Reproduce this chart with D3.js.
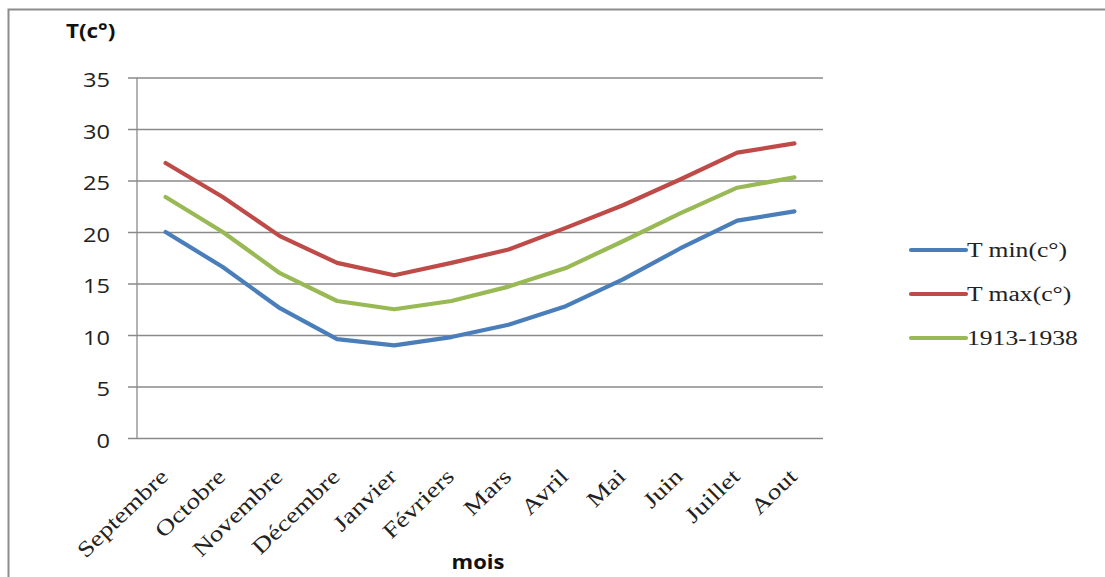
<!DOCTYPE html>
<html>
<head>
<meta charset="utf-8">
<script src="https://cdn.jsdelivr.net/npm/d3@7"></script>
<style>
  html, body { margin: 0; padding: 0; background: #fff; }
  svg { display: block; }
</style>
</head>
<body>
<svg id="chart" width="1105" height="577"></svg>
<script>
// Monthly temperatures (°C), September to August
const months = ["Septembre", "Octobre", "Novembre", "Décembre", "Janvier", "Févriers",
                "Mars", "Avril", "Mai", "Juin", "Juillet", "Aout"];
const tMin   = [20.0, 16.6, 12.6, 9.6, 9.0, 9.8, 11.0, 12.8, 15.4, 18.4, 21.1, 22.0];
const tMax   = [26.7, 23.4, 19.6, 17.0, 15.8, 17.0, 18.3, 20.4, 22.6, 25.1, 27.7, 28.6];
const tRef   = [23.4, 20.0, 16.0, 13.3, 12.5, 13.3, 14.7, 16.5, 19.1, 21.8, 24.3, 25.3];
const seriesNames = ["T min(c°)", "T max(c°)", "1913-1938"];
const yTicks = [0, 5, 10, 15, 20, 25, 30, 35];

const series = [
  { name: seriesNames[0], values: tMin, color: "#4A7EBB" },
  { name: seriesNames[1], values: tMax, color: "#BE4B48" },
  { name: seriesNames[2], values: tRef, color: "#98B954" }
];

const sans = "'Open Sans', 'DejaVu Sans', sans-serif";
const serif = "'Liberation Serif', 'Times New Roman', serif";
const stretch = 1.18;   // wide lettering

const svg = d3.select("#chart");
const plot = { left: 137, right: 823, top: 77.5, bottom: 438 };

// Outer chart frame
svg.append("rect")
  .attr("x", 8.5).attr("y", 9.5)
  .attr("width", 1110).attr("height", 580)
  .attr("fill", "none").attr("stroke", "#8c8c8c").attr("stroke-width", 2);

const x = d3.scaleBand().domain(months).range([plot.left, plot.right]);
const y = d3.scaleLinear().domain([0, 35]).range([plot.bottom, plot.top]);

// Horizontal gridlines with short ticks to the left of the axis
const yAxis = d3.axisLeft(y).tickValues(yTicks)
  .tickSize(-(plot.right - plot.left)).tickFormat(d3.format("d"));
const gy = svg.append("g").attr("transform", `translate(${plot.left},0)`).call(yAxis);
gy.select(".domain").remove();
gy.selectAll(".tick line")
  .attr("x1", -9)
  .attr("stroke", "#8a8a8a").attr("stroke-width", 1.3);
gy.selectAll(".tick text")
  .attr("x", 0)
  .attr("transform", `translate(-27,0) scale(${stretch},1)`)
  .attr("font-family", sans)
  .attr("font-size", 20).attr("fill", "#222").attr("dy", "0.45em");

// Vertical axis line
svg.append("line")
  .attr("x1", plot.left).attr("x2", plot.left)
  .attr("y1", y(35)).attr("y2", y(0))
  .attr("stroke", "#8a8a8a").attr("stroke-width", 1.3);

// Category labels, slanted
const xAxis = d3.axisBottom(x).tickSize(0).tickPadding(0);
const gx = svg.append("g").attr("transform", `translate(0,${plot.bottom})`).call(xAxis);
gx.select(".domain").remove();
gx.selectAll(".tick text")
  .attr("font-family", serif)
  .attr("font-size", 22).attr("fill", "#222")
  .attr("text-anchor", "end")
  .attr("y", 0).attr("dy", 0)
  .attr("transform", "translate(4,40) rotate(-44) scale(1.24,1)");

// Series lines
const line = d3.line()
  .x((d, i) => x(months[i]) + x.bandwidth() / 2)
  .y(d => y(d));

svg.append("g").selectAll("path")
  .data(series)
  .join("path")
  .attr("d", d => line(d.values))
  .attr("fill", "none")
  .attr("stroke", d => d.color)
  .attr("stroke-width", 4.2)
  .attr("stroke-linejoin", "round")
  .attr("stroke-linecap", "round");

// Axis titles
svg.append("text")
  .attr("transform", `translate(66,38) scale(${stretch},1)`)
  .attr("font-family", sans)
  .attr("font-weight", "bold").attr("font-size", 19).attr("fill", "#111")
  .text("T(c°)");

svg.append("text")
  .attr("transform", `translate(478,569) scale(1.1,1)`)
  .attr("text-anchor", "middle")
  .attr("font-family", sans)
  .attr("font-weight", "bold").attr("font-size", 20).attr("fill", "#111")
  .text("mois");

// Legend
const legend = svg.append("g").selectAll("g")
  .data(series)
  .join("g")
  .attr("transform", (d, i) => `translate(910,${250 + i * 44})`);
legend.append("line")
  .attr("x1", 1).attr("x2", 56)
  .attr("stroke", d => d.color).attr("stroke-width", 4.2)
  .attr("stroke-linecap", "round");
legend.append("text")
  .attr("transform", "translate(57,0) scale(1.28,1)")
  .attr("dy", "0.35em")
  .attr("font-family", serif)
  .attr("font-size", 20).attr("fill", "#222")
  .text(d => d.name);
</script>
</body>
</html>
